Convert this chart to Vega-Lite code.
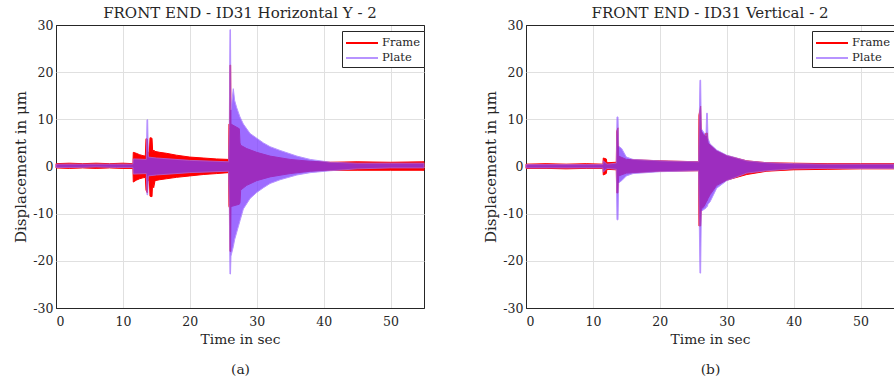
{
  "$schema": "https://vega.github.io/schema/vega-lite/v6.json",
  "padding": {"left": 13, "top": 5, "right": 0, "bottom": 0},
  "spacing": 56,
  "background": "white",
  "datasets": {
    "aF": [
      {"s":"Frame","t":0,"hi":0.6,"lo":-0.3},{"s":"Frame","t":2,"hi":0.7,"lo":-0.4},{"s":"Frame","t":4,"hi":0.6,"lo":-0.3},{"s":"Frame","t":6,"hi":0.7,"lo":-0.4},{"s":"Frame","t":8,"hi":0.6,"lo":-0.3},{"s":"Frame","t":10,"hi":0.7,"lo":-0.4},{"s":"Frame","t":11.5,"hi":0.6,"lo":-0.4},
      {"s":"Frame","t":11.55,"hi":3.0,"lo":-3.3},{"s":"Frame","t":12.0,"hi":2.8,"lo":-2.9},{"s":"Frame","t":12.5,"hi":2.5,"lo":-2.6},{"s":"Frame","t":13.0,"hi":2.3,"lo":-2.4},{"s":"Frame","t":13.35,"hi":2.2,"lo":-2.3},
      {"s":"Frame","t":13.45,"hi":5.9,"lo":-5.0},{"s":"Frame","t":13.65,"hi":5.8,"lo":-5.6},{"s":"Frame","t":13.75,"hi":3.0,"lo":-3.0},{"s":"Frame","t":13.95,"hi":3.0,"lo":-3.0},
      {"s":"Frame","t":14.05,"hi":6.1,"lo":-6.3},{"s":"Frame","t":14.35,"hi":6.0,"lo":-6.4},{"s":"Frame","t":14.45,"hi":3.2,"lo":-3.2},{"s":"Frame","t":14.6,"hi":3.5,"lo":-4.5},{"s":"Frame","t":14.8,"hi":3.2,"lo":-3.0},
      {"s":"Frame","t":15.5,"hi":3.0,"lo":-2.8},{"s":"Frame","t":16.5,"hi":2.8,"lo":-2.6},{"s":"Frame","t":18,"hi":2.4,"lo":-2.3},{"s":"Frame","t":20,"hi":2.0,"lo":-2.0},{"s":"Frame","t":22,"hi":1.8,"lo":-1.7},{"s":"Frame","t":24,"hi":1.6,"lo":-1.5},{"s":"Frame","t":25.8,"hi":1.5,"lo":-1.3},
      {"s":"Frame","t":25.85,"hi":9.0,"lo":-8.5},{"s":"Frame","t":25.95,"hi":9.0,"lo":-8.8},{"s":"Frame","t":26.0,"hi":21.5,"lo":-18.0},{"s":"Frame","t":26.1,"hi":21.5,"lo":-18.0},{"s":"Frame","t":26.15,"hi":9.0,"lo":-8.5},
      {"s":"Frame","t":27.4,"hi":8.0,"lo":-8.0},{"s":"Frame","t":27.5,"hi":5.0,"lo":-7.7},{"s":"Frame","t":27.6,"hi":4.5,"lo":-5.0},{"s":"Frame","t":28.5,"hi":3.8,"lo":-4.0},{"s":"Frame","t":30,"hi":3.0,"lo":-3.0},{"s":"Frame","t":32,"hi":2.2,"lo":-2.2},{"s":"Frame","t":35,"hi":1.5,"lo":-1.5},{"s":"Frame","t":38,"hi":1.1,"lo":-1.0},{"s":"Frame","t":41,"hi":0.9,"lo":-0.8},{"s":"Frame","t":45,"hi":1.0,"lo":-0.8},{"s":"Frame","t":50,"hi":0.9,"lo":-0.8},{"s":"Frame","t":55,"hi":1.0,"lo":-0.8}
    ],
    "aP": [
      {"s":"Plate","t":0,"hi":0.5,"lo":-0.2},{"s":"Plate","t":3,"hi":0.5,"lo":-0.2},{"s":"Plate","t":6,"hi":0.5,"lo":-0.1},{"s":"Plate","t":9,"hi":0.5,"lo":-0.2},{"s":"Plate","t":11.5,"hi":0.5,"lo":-0.2},
      {"s":"Plate","t":11.55,"hi":1.6,"lo":-1.6},{"s":"Plate","t":13.5,"hi":1.5,"lo":-1.5},{"s":"Plate","t":13.6,"hi":9.9,"lo":-6.0},{"s":"Plate","t":13.7,"hi":9.9,"lo":-6.0},{"s":"Plate","t":13.8,"hi":2.0,"lo":-2.0},{"s":"Plate","t":15,"hi":1.8,"lo":-1.8},{"s":"Plate","t":20,"hi":1.3,"lo":-1.3},{"s":"Plate","t":25.8,"hi":1.0,"lo":-1.0},
      {"s":"Plate","t":25.9,"hi":8.0,"lo":-8.0},{"s":"Plate","t":26.0,"hi":29.0,"lo":-22.8},{"s":"Plate","t":26.08,"hi":29.0,"lo":-22.8},{"s":"Plate","t":26.15,"hi":12.0,"lo":-19.0},{"s":"Plate","t":26.5,"hi":16.5,"lo":-17.0},{"s":"Plate","t":26.7,"hi":14.0,"lo":-15.5},{"s":"Plate","t":27.0,"hi":12.5,"lo":-14.0},{"s":"Plate","t":27.5,"hi":10.5,"lo":-11.5},{"s":"Plate","t":28.0,"hi":9.0,"lo":-9.0},{"s":"Plate","t":29.0,"hi":7.0,"lo":-6.8},{"s":"Plate","t":30,"hi":6.0,"lo":-5.5},{"s":"Plate","t":31,"hi":5.0,"lo":-4.5},{"s":"Plate","t":32,"hi":4.2,"lo":-3.6},{"s":"Plate","t":33.5,"hi":3.4,"lo":-2.8},{"s":"Plate","t":36,"hi":2.2,"lo":-1.8},{"s":"Plate","t":38,"hi":1.5,"lo":-1.3},{"s":"Plate","t":41,"hi":0.9,"lo":-0.9},{"s":"Plate","t":45,"hi":0.7,"lo":-0.5},{"s":"Plate","t":50,"hi":0.7,"lo":-0.3},{"s":"Plate","t":55,"hi":0.7,"lo":-0.3}
    ],
    "bF": [
      {"s":"Frame","t":0,"hi":0.5,"lo":-0.4},{"s":"Frame","t":3,"hi":0.6,"lo":-0.4},{"s":"Frame","t":6,"hi":0.5,"lo":-0.5},{"s":"Frame","t":9,"hi":0.6,"lo":-0.4},{"s":"Frame","t":11.5,"hi":0.5,"lo":-0.4},
      {"s":"Frame","t":11.55,"hi":1.8,"lo":-1.8},{"s":"Frame","t":12.0,"hi":1.6,"lo":-1.5},{"s":"Frame","t":12.1,"hi":0.8,"lo":-0.6},{"s":"Frame","t":13.5,"hi":0.9,"lo":-0.7},{"s":"Frame","t":13.55,"hi":7.5,"lo":-5.6},{"s":"Frame","t":13.75,"hi":8.2,"lo":-5.6},{"s":"Frame","t":13.85,"hi":2.2,"lo":-2.0},{"s":"Frame","t":15,"hi":1.5,"lo":-1.4},{"s":"Frame","t":20,"hi":1.2,"lo":-1.0},{"s":"Frame","t":25.8,"hi":1.0,"lo":-0.9},
      {"s":"Frame","t":25.85,"hi":10.9,"lo":-12.6},{"s":"Frame","t":26.1,"hi":12.8,"lo":-12.6},{"s":"Frame","t":26.2,"hi":7.5,"lo":-9.0},{"s":"Frame","t":26.6,"hi":6.5,"lo":-8.5},{"s":"Frame","t":26.95,"hi":7.1,"lo":-7.5},{"s":"Frame","t":27.1,"hi":7.1,"lo":-7.2},{"s":"Frame","t":27.2,"hi":5.0,"lo":-6.8},{"s":"Frame","t":27.5,"hi":4.6,"lo":-6.0},{"s":"Frame","t":28.5,"hi":3.3,"lo":-4.0},{"s":"Frame","t":30,"hi":2.3,"lo":-2.9},{"s":"Frame","t":33,"hi":1.2,"lo":-1.7},{"s":"Frame","t":36,"hi":0.8,"lo":-1.0},{"s":"Frame","t":40,"hi":0.7,"lo":-0.7},{"s":"Frame","t":45,"hi":0.6,"lo":-0.6},{"s":"Frame","t":50,"hi":0.6,"lo":-0.5},{"s":"Frame","t":55,"hi":0.6,"lo":-0.5}
    ],
    "bP": [
      {"s":"Plate","t":0,"hi":0.4,"lo":-0.3},{"s":"Plate","t":3,"hi":0.4,"lo":-0.3},{"s":"Plate","t":6,"hi":0.4,"lo":-0.3},{"s":"Plate","t":9,"hi":0.4,"lo":-0.3},{"s":"Plate","t":11.5,"hi":0.4,"lo":-0.3},
      {"s":"Plate","t":11.55,"hi":1.2,"lo":-1.2},{"s":"Plate","t":12.1,"hi":0.5,"lo":-0.4},{"s":"Plate","t":13.5,"hi":0.7,"lo":-0.6},{"s":"Plate","t":13.6,"hi":10.5,"lo":-11.3},{"s":"Plate","t":13.75,"hi":10.5,"lo":-11.3},{"s":"Plate","t":13.85,"hi":4.3,"lo":-3.5},{"s":"Plate","t":14.3,"hi":3.8,"lo":-3.0},{"s":"Plate","t":15,"hi":2.0,"lo":-2.0},{"s":"Plate","t":16,"hi":1.5,"lo":-1.5},{"s":"Plate","t":20,"hi":1.2,"lo":-1.1},{"s":"Plate","t":25.8,"hi":1.0,"lo":-0.9},
      {"s":"Plate","t":25.9,"hi":10.0,"lo":-12.0},{"s":"Plate","t":26.0,"hi":18.3,"lo":-22.6},{"s":"Plate","t":26.1,"hi":18.3,"lo":-22.6},{"s":"Plate","t":26.2,"hi":8.0,"lo":-9.5},{"s":"Plate","t":26.9,"hi":6.5,"lo":-8.8},{"s":"Plate","t":27.0,"hi":11.3,"lo":-8.5},{"s":"Plate","t":27.1,"hi":11.3,"lo":-8.5},{"s":"Plate","t":27.2,"hi":6.0,"lo":-8.0},{"s":"Plate","t":27.5,"hi":4.8,"lo":-7.5},{"s":"Plate","t":28.5,"hi":3.5,"lo":-4.6},{"s":"Plate","t":30,"hi":2.4,"lo":-3.0},{"s":"Plate","t":33,"hi":1.2,"lo":-1.4},{"s":"Plate","t":36,"hi":0.8,"lo":-0.9},{"s":"Plate","t":40,"hi":0.6,"lo":-0.5},{"s":"Plate","t":45,"hi":0.5,"lo":-0.4},{"s":"Plate","t":55,"hi":0.5,"lo":-0.4}
    ]
  },
  "hconcat": [
    {
      "title": "FRONT END - ID31 Horizontal Y - 2",
      "width": 368,
      "height": 283,
      "encoding": {
        "x": {"field": "t", "type": "quantitative", "scale": {"domain": [0, 55], "nice": false},
              "axis": {"values": [0, 10, 20, 30, 40, 50], "title": ["Time in sec", "(a)"],
                       "gridColor": {"condition": {"test": "datum.value === 0", "value": "#262626"}, "value": "#e0e0e0"}}},
        "y": {"field": "hi", "type": "quantitative", "scale": {"domain": [-30, 30], "nice": false},
              "axis": {"values": [-30, -20, -10, 0, 10, 20, 30], "title": "Displacement in μm",
                       "gridColor": {"condition": {"test": "abs(datum.value) === 30", "value": "#262626"}, "value": "#e0e0e0"},
                       "labelExpr": "datum.value < 0 ? '-' + abs(datum.value) : '' + datum.value"}},
        "y2": {"field": "lo"},
        "color": {"field": "s", "type": "nominal", "scale": {"domain": ["Frame", "Plate"], "range": ["#ff0000", "#7d3cff"]},
                  "legend": {"orient": "none", "legendX": 286, "legendY": 6, "title": null, "symbolType": "M-1,0H3", "symbolSize": 256, "symbolStrokeWidth": 2, "symbolOpacity": 1, "strokeColor": "#262626", "fillColor": "white", "padding": 3, "labelFontSize": 11.5, "labelOffset": 19, "rowPadding": 0}},
        "stroke": {"field": "s", "type": "nominal", "scale": {"domain": ["Frame", "Plate"], "range": ["#ff0000", "#a070ff"]},
                  "legend": {"orient": "none", "legendX": 286, "legendY": 6, "title": null, "symbolType": "M-1,0H3", "symbolSize": 256, "symbolStrokeWidth": 2, "symbolOpacity": 1, "strokeColor": "#262626", "fillColor": "white", "padding": 3, "labelFontSize": 11.5, "labelOffset": 19, "rowPadding": 0}},
        "strokeDash": {"field": "s", "type": "nominal", "scale": {"domain": ["Frame", "Plate"], "range": [[1, 0], [1, 2]]},
                  "legend": {"orient": "none", "legendX": 286, "legendY": 6, "title": null, "symbolType": "M-1,0H3", "symbolSize": 256, "symbolStrokeWidth": 2, "symbolOpacity": 1, "strokeColor": "#262626", "fillColor": "white", "padding": 3, "labelFontSize": 11.5, "labelOffset": 19, "rowPadding": 0}},
        "opacity": {"field": "s", "type": "nominal", "scale": {"domain": ["Frame", "Plate"], "range": [1, 0.75]}, "legend": null}
      },
      "layer": [
        {"data": {"name": "aF"}, "mark": {"type": "area", "strokeWidth": 1}},
        {"data": {"name": "aP"}, "mark": {"type": "area", "strokeWidth": 1}}
      ]
    },
    {
      "title": "FRONT END - ID31 Vertical - 2",
      "width": 368,
      "height": 283,
      "encoding": {
        "x": {"field": "t", "type": "quantitative", "scale": {"domain": [0, 55], "nice": false},
              "axis": {"values": [0, 10, 20, 30, 40, 50], "title": ["Time in sec", "(b)"],
                       "gridColor": {"condition": {"test": "datum.value === 0", "value": "#262626"}, "value": "#e0e0e0"}}},
        "y": {"field": "hi", "type": "quantitative", "scale": {"domain": [-30, 30], "nice": false},
              "axis": {"values": [-30, -20, -10, 0, 10, 20, 30], "title": "Displacement in μm",
                       "gridColor": {"condition": {"test": "abs(datum.value) === 30", "value": "#262626"}, "value": "#e0e0e0"},
                       "labelExpr": "datum.value < 0 ? '-' + abs(datum.value) : '' + datum.value"}},
        "y2": {"field": "lo"},
        "color": {"field": "s", "type": "nominal", "scale": {"domain": ["Frame", "Plate"], "range": ["#ff0000", "#7d3cff"]},
                  "legend": {"orient": "none", "legendX": 286, "legendY": 6, "title": null, "symbolType": "M-1,0H3", "symbolSize": 256, "symbolStrokeWidth": 2, "symbolOpacity": 1, "strokeColor": "#262626", "fillColor": "white", "padding": 3, "labelFontSize": 11.5, "labelOffset": 19, "rowPadding": 0}},
        "stroke": {"field": "s", "type": "nominal", "scale": {"domain": ["Frame", "Plate"], "range": ["#ff0000", "#a070ff"]},
                  "legend": {"orient": "none", "legendX": 286, "legendY": 6, "title": null, "symbolType": "M-1,0H3", "symbolSize": 256, "symbolStrokeWidth": 2, "symbolOpacity": 1, "strokeColor": "#262626", "fillColor": "white", "padding": 3, "labelFontSize": 11.5, "labelOffset": 19, "rowPadding": 0}},
        "strokeDash": {"field": "s", "type": "nominal", "scale": {"domain": ["Frame", "Plate"], "range": [[1, 0], [1, 2]]},
                  "legend": {"orient": "none", "legendX": 286, "legendY": 6, "title": null, "symbolType": "M-1,0H3", "symbolSize": 256, "symbolStrokeWidth": 2, "symbolOpacity": 1, "strokeColor": "#262626", "fillColor": "white", "padding": 3, "labelFontSize": 11.5, "labelOffset": 19, "rowPadding": 0}},
        "opacity": {"field": "s", "type": "nominal", "scale": {"domain": ["Frame", "Plate"], "range": [1, 0.75]}, "legend": null}
      },
      "layer": [
        {"data": {"name": "bF"}, "mark": {"type": "area", "strokeWidth": 1}},
        {"data": {"name": "bP"}, "mark": {"type": "area", "strokeWidth": 1}}
      ]
    }
  ],
  "resolve": {
    "scale": {"color": "independent", "stroke": "independent", "strokeDash": "independent", "opacity": "independent"}
  },
  "config": {
    "font": "DejaVu Serif",
    "view": {"stroke": "#262626", "strokeWidth": 1},
    "axis": {
      "grid": true, "domain": false, "ticks": false,
      "labelFont": "DejaVu Serif", "labelFontSize": 12.5, "labelColor": "#262626",
      "titleFont": "DejaVu Serif", "titleFontWeight": "normal", "titleColor": "#262626"
    },
    "axisY": {"titlePadding": 4, "labelPadding": 3, "titleFontSize": 15},
    "axisX": {"titlePadding": 5, "labelPadding": 7, "titleFontSize": 13.8, "titleLineHeight": 30},
    "title": {"font": "DejaVu Serif", "fontSize": 15, "fontWeight": "normal", "color": "#262626", "offset": -2},
    "legend": {"labelFont": "DejaVu Serif", "labelColor": "#262626"}
  }
}
